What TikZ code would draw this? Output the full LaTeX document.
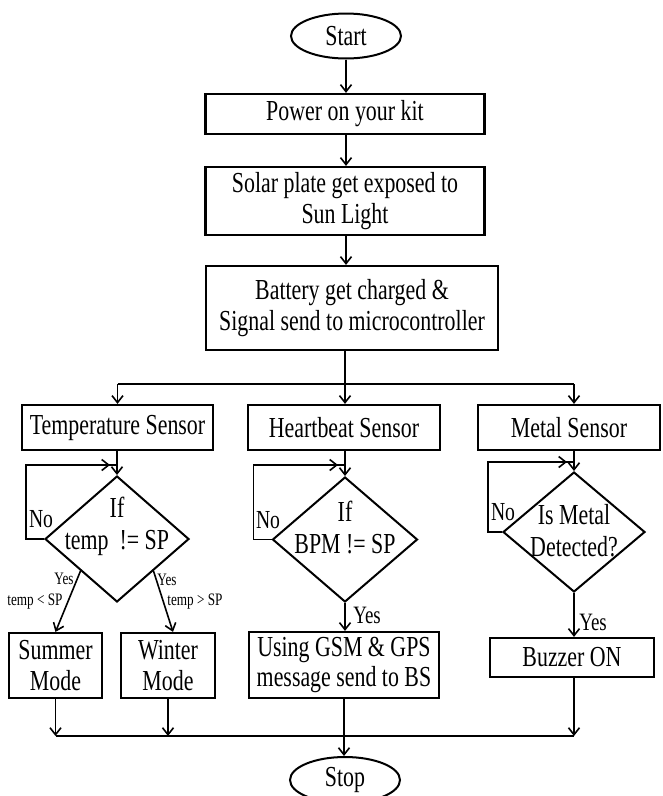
\documentclass[tikz,border=0pt]{standalone}
\usepackage{fontspec}
\setmainfont{Liberation Serif}[FakeStretch=0.755]
\usetikzlibrary{shapes.geometric,arrows.meta}
\begin{document}
\begin{tikzpicture}[x=1pt,y=-1pt,
  box/.style={draw, line width=2.2pt, rectangle, inner sep=0pt, align=center, font=\fontsize{29}{30.5}\selectfont},
  term/.style={draw, line width=2pt, ellipse, inner sep=0pt, font=\fontsize{29}{30}\selectfont},
  dia/.style={draw, line width=2pt, diamond, inner sep=0pt},
  dtext/.style={align=center, font=\fontsize{29}{32}\selectfont, inner sep=0pt},
  nolbl/.style={inner sep=0pt, font=\fontsize{26}{26}\selectfont},
  small/.style={inner sep=0pt, font=\fontsize{17.5}{18}\selectfont},
  yeslbl/.style={inner sep=0pt, font=\fontsize{25}{25}\selectfont},
  line/.style={line width=1.6pt},
  arr/.style={line, -{Straight Barb[length=7pt,width=11pt]}},
]
\useasboundingbox (0,0) rectangle (662,796);

% top chain
\node[term, minimum width=110pt, minimum height=45pt] (start) at (346,36) {Start};
\node[box, minimum width=279pt, minimum height=40pt] (power) at (345,114) {Power on your kit};
\node[box, minimum width=279pt, minimum height=68pt] (solar) at (345,201) {Solar plate get exposed to\\Sun Light};
\node[box, minimum width=292pt, minimum height=84pt] (battery) at (352,308) {Battery get charged \&\\Signal send to microcontroller};

\draw[arr] (start.south) -- (power.north -| start);
\draw[arr] (power.south -| start) -- (solar.north -| start);
\draw[arr] (solar.south -| start) -- (battery.north -| start);

% sensors
\node[box, minimum width=191pt, minimum height=45pt] (temp) at (117.5,427.5) {Temperature Sensor};
\node[box, minimum width=192pt, minimum height=45pt] (heart) at (344,427.5) {Heartbeat Sensor};
\node[box, minimum width=182pt, minimum height=45pt] (metal) at (569,427.5) {Metal Sensor};

% diamonds
\node[dia, minimum width=144pt, minimum height=126pt] (d1) at (117,539) {};
\node[dtext] (d1t) at ([yshift=13pt]d1.center) {If\\temp~ != SP};
\node[dia, minimum width=145pt, minimum height=125pt] (d2) at (345,539.5) {};
\node[dtext] (d2t) at ([yshift=12.5pt]d2.center) {If\\BPM != SP};
\node[dia, minimum width=142pt, minimum height=120pt] (d3) at (574,532) {};
\node[dtext] (d3t) at ([yshift=1pt]d3.center) {Is Metal\\Detected?};

% branch from battery
\coordinate (br) at (345,384);
\draw[line] (battery.south -| br) -- (br);
\draw[line] (br -| temp) -- (br -| d3);
\draw[arr] (br -| temp) -- (temp.north);
\draw[arr] (br) -- (heart.north -| br);
\draw[arr] (br -| d3) -- (metal.north -| d3);

% sensor to diamond
\draw[arr] (temp.south -| d1) -- (d1.north);
\draw[arr] (heart.south -| d2) -- (d2.north);
\draw[arr] (metal.south -| d3) -- (d3.north);

% No loops
\coordinate (j1) at (117,465);
\coordinate (j2) at (345,465);
\coordinate (j3) at (574,462);
\draw[arr] (d1.west) -- ++(-18,0) |- ([xshift=-7pt]j1);
\draw[line] ([xshift=-9pt]j1) -- (j1);
\draw[arr] (d2.west) -- ++(-18,0) |- ([xshift=-7pt]j2);
\draw[line] ([xshift=-9pt]j2) -- (j2);
\draw[arr] (d3.west) -- ++(-14,0) |- ([xshift=-7pt]j3);
\draw[line] ([xshift=-9pt]j3) -- (j3);
\node[nolbl] (no1) at (41,519) {No};
\node[nolbl] (no2) at (268,520) {No};
\node[nolbl] (no3) at (503,512) {No};

% outputs
\node[box, minimum width=93pt, minimum height=65pt] (summer) at (55.5,665.5) {Summer\\Mode};
\node[box, minimum width=94pt, minimum height=65pt] (winter) at (168,665.5) {Winter\\Mode};
\node[box, minimum width=190pt, minimum height=66pt] (gsm) at (344,665) {Using GSM \& GPS\\message send to BS};
\node[box, minimum width=164pt, minimum height=39pt] (buzzer) at (572,657.5) {Buzzer ON};

\draw[arr] (d1.south west) -- (summer.north);
\draw[arr] (d1.south east) -- ([xshift=5pt]winter.north);
\draw[arr] (d2.south) -- (gsm.north -| d2);
\draw[arr] (d3.south) -- (buzzer.north -| d3);

\node[small] (y1) at (64,579) {Yes};
\node[small] (c1) at (35,602) {temp < SP};
\node[small] (y2) at (167,580) {Yes};
\node[small] (c2) at (195,602) {temp > SP};
\node[yeslbl] (y3) at (367,615) {Yes};
\node[yeslbl] (y4) at (593,622) {Yes};

% collect
\node[term, minimum width=110pt, minimum height=46pt] (stop) at (345,780) {Stop};
\coordinate (jb) at (344,736);
\draw[line] (summer.south |- jb) -- (jb -| d3);
\draw[arr] (summer.south) -- (summer.south |- jb);
\draw[arr] (winter.south) -- (winter.south |- jb);
\draw[arr] (buzzer.south -| d3) -- (jb -| d3);
\draw[arr] (gsm.south) -- (stop.north -| gsm);
\end{tikzpicture}
\end{document}
